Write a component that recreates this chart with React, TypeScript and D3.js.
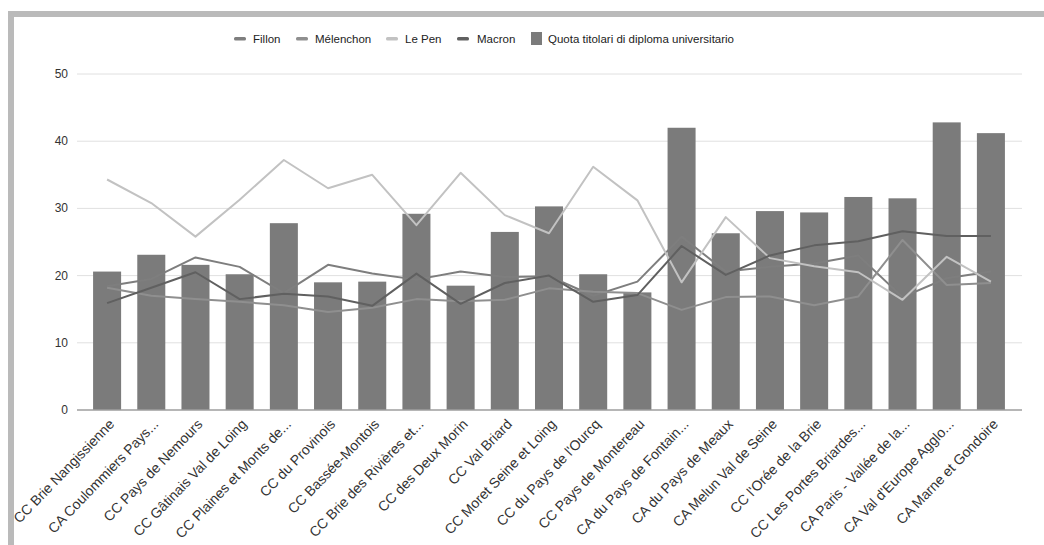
import React from "react";
import * as d3 from "d3";

const categories = [
  "CC Brie Nangissienne",
  "CA Coulommiers Pays...",
  "CC Pays de Nemours",
  "CC Gâtinais Val de Loing",
  "CC Plaines et Monts de...",
  "CC du Provinois",
  "CC Bassée-Montois",
  "CC Brie des Rivières et...",
  "CC des Deux Morin",
  "CC Val Briard",
  "CC Moret Seine et Loing",
  "CC du Pays de l'Ourcq",
  "CC Pays de Montereau",
  "CA du Pays de Fontain...",
  "CA du Pays de Meaux",
  "CA Melun Val de Seine",
  "CC l'Orée de la Brie",
  "CC Les Portes Briardes...",
  "CA Paris - Vallée de la...",
  "CA Val d'Europe Agglo...",
  "CA Marne et Gondoire",
];

const quota = [20.6, 23.1, 21.6, 20.2, 27.8, 19.0, 19.1, 29.2, 18.5, 26.5, 30.3, 20.2, 17.5, 42.0, 26.3, 29.6, 29.4, 31.7, 31.5, 42.8, 41.2];
const fillon = [18.4, 19.5, 22.7, 21.3, 17.4, 21.6, 20.3, 19.4, 20.6, 19.8, 19.9, 17.0, 19.1, 25.8, 20.6, 21.3, 21.8, 23.0, 16.8, 19.6, 20.6];
const melenchon = [18.2, 17.0, 16.5, 16.1, 15.6, 14.6, 15.2, 16.5, 16.2, 16.4, 18.1, 17.6, 17.4, 14.9, 16.8, 16.9, 15.6, 16.9, 25.3, 18.6, 18.9];
const lePen = [34.3, 30.8, 25.8, 31.3, 37.2, 33.0, 35.0, 27.5, 35.3, 29.0, 26.3, 36.2, 31.2, 19.0, 28.7, 22.6, 21.4, 20.5, 16.4, 22.8, 19.1];
const macron = [15.9, 18.2, 20.5, 16.5, 17.3, 16.9, 15.5, 20.3, 15.8, 18.9, 20.0, 16.1, 17.1, 24.4, 20.1, 23.0, 24.5, 25.1, 26.6, 25.9, 25.9];

const yTicks = [0, 10, 20, 30, 40, 50];

const lineSeries = [
  { name: "Fillon", values: fillon, color: "#7e7e7e" },
  { name: "Mélenchon", values: melenchon, color: "#8f8f8f" },
  { name: "Le Pen", values: lePen, color: "#c2c2c2" },
  { name: "Macron", values: macron, color: "#606060" },
];
const barName = "Quota titolari di diploma universitario";
const barColor = "#7b7b7b";

const FONT = "'Liberation Sans', Arial, sans-serif";

export default function App() {
  const W = 1044, H = 545;
  const x = d3.scaleBand<string>().domain(categories).range([85, 1013]).paddingInner(0.366).paddingOuter(0.183);
  const y = d3.scaleLinear().domain([0, 50]).range([410, 74]);
  const cx = (i: number) => (x(categories[i]) as number) + x.bandwidth() / 2;
  const line = d3.line<number>().x((_, i) => cx(i)).y((d) => y(d));

  const legendItems = [
    { name: "Fillon", sx: 234, tx: 253, color: lineSeries[0].color, type: "line" },
    { name: "Mélenchon", sx: 296, tx: 315, color: lineSeries[1].color, type: "line" },
    { name: "Le Pen", sx: 386, tx: 405, color: lineSeries[2].color, type: "line" },
    { name: "Macron", sx: 457, tx: 477, color: lineSeries[3].color, type: "line" },
    { name: barName, sx: 531, tx: 548, color: barColor, type: "bar" },
  ];

  return (
    <svg width={W} height={H} style={{ position: "absolute", left: 0, top: 0, background: "#fff" }} fontFamily={FONT}>
      <rect x={0} y={0} width={W} height={H} fill="#fff" />
      {/* frame */}
      <rect x={8} y={11} width={W - 8} height={6} fill="#bababa" />
      <rect x={8} y={11} width={6} height={H - 11} fill="#bababa" />

      {/* legend */}
      {legendItems.map((it) =>
        <g key={it.name}>
          {it.type === "line"
            ? <rect x={it.sx} y={37} width={12} height={3.5} rx={1.5} fill={it.color} />
            : <rect x={it.sx} y={32} width={11} height={13} fill={it.color} />}
          <text x={it.tx} y={43} fontSize={11.5} fill="#222">{it.name}</text>
        </g>
      )}

      {/* grid */}
      {yTicks.map((t) =>
        <g key={t}>
          {t !== 0 && <line x1={77} x2={1022} y1={y(t)} y2={y(t)} stroke="#e0e0e0" strokeWidth={1} />}
          <text x={68} y={y(t) + 4} textAnchor="end" fontSize={12} fill="#333">{t}</text>
        </g>
      )}

      {/* bars */}
      {quota.map((v, i) =>
        <rect key={i} x={x(categories[i])} y={y(v)} width={x.bandwidth()} height={y(0) - y(v)} fill={barColor} />
      )}

      {/* baseline */}
      <line x1={77} x2={1022} y1={y(0)} y2={y(0)} stroke="#9e9e9e" strokeWidth={1.5} />

      {/* lines */}
      {lineSeries.map((s) =>
        <path key={s.name} d={line(s.values) || ""} fill="none" stroke={s.color} strokeWidth={2} strokeLinejoin="round" />
      )}

      {/* x labels */}
      {categories.map((c, i) =>
        <text key={c} transform={`translate(${cx(i) + 8},${y(0) + 15}) rotate(-46)`} textAnchor="end" fontSize={14} fill="#333">{c}</text>
      )}
    </svg>
  );
}
